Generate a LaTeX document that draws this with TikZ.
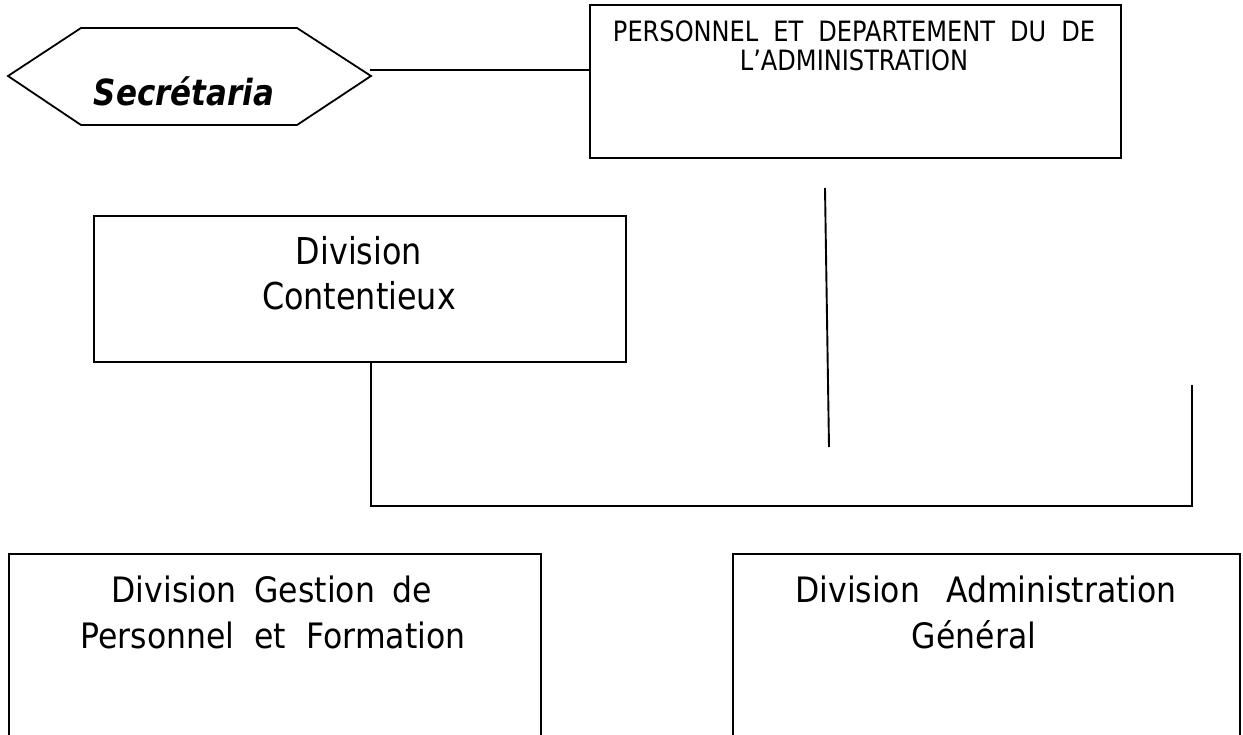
\documentclass[tikz,border=0pt]{standalone}
\usepackage{fontspec}
\setmainfont{DejaVu Sans}[FakeStretch=0.86]
\newfontfamily\lowerfamily{DejaVu Sans}[FakeStretch=0.9]
\begin{document}
\begin{tikzpicture}[x=1pt,y=-1pt,
  box/.style={draw, line width=1.9pt, rectangle, inner sep=0pt},
  wire/.style={line width=1.9pt},
  txt/.style={anchor=base, inner sep=0pt},
  topfont/.style={font=\fontsize{28}{31}\selectfont},
  midfont/.style={font=\fontsize{37}{45}\selectfont},
  lowfont/.style={font=\lowerfamily\fontsize{35}{45}\selectfont},
  secfont/.style={font=\fontsize{36}{40}\selectfont\bfseries\itshape}]
\useasboundingbox (0,0) rectangle (1243,735);
\clip (0,0) rectangle (1243,735);

% Secretariat hexagon
\coordinate (hexW) at (8,76);
\coordinate (hexE) at (371,76);
\draw[line width=1.8pt, line join=miter] (hexW) -- (81,28) -- (297,28) -- (hexE) -- (297,125) -- (81,125) -- cycle;
\node[txt, secfont] (sec) at (184,106) {Secrétaria};

% Personnel department box
\node[box, anchor=north west, minimum width=531pt, minimum height=153pt] (pers) at (589,4) {};
\node[txt, topfont] (persA) at (854,42) {PERSONNEL\hspace{15pt}ET\hspace{15pt}DEPARTEMENT\hspace{15pt}DU\hspace{15pt}DE};
\node[txt, topfont] (persB) at (854,71) {L’ADMINISTRATION};

% link from the hexagon to the department box
\coordinate (hexLink) at (370,70);
\draw[wire] (hexLink) -- (hexLink -| pers.west);

% Contentieux box
\node[box, anchor=north west, minimum width=532pt, minimum height=146pt] (cont) at (93,215) {};
\node[txt, midfont] (contA) at (359,265) {Division};
\node[txt, midfont] (contB) at (359,310) {Contentieux};

% free vertical stroke under the department box
\coordinate (vTop) at (825,188);
\coordinate (vBot) at (829,447);
\draw[wire] (vTop) -- (vBot);

% bracket connector
\coordinate (brL) at (371,506);
\coordinate (brR) at (1192,506);
\coordinate (brEnd) at (1192,385);
\draw[wire, line width=2.3pt, line join=miter] (cont.south -| brL) -- (brL) -- (brR) -- (brEnd);

% lower division boxes
\node[box, anchor=north west, minimum width=532pt, minimum height=220pt] (gest) at (8,553) {};
\node[txt, lowfont] (gestA) at (272,602) {Division\hspace{18pt}Gestion\hspace{18pt}de};
\node[txt, lowfont] (gestB) at (273,648) {Personnel\hspace{20pt}et\hspace{20pt}Formation};

\node[box, anchor=north west, minimum width=507pt, minimum height=220pt] (adm) at (732,553) {};
\node[txt, lowfont] (admA) at (986,602) {Division\hspace{26pt}Administration};
\node[txt, lowfont] (admB) at (974,648) {Général};
\end{tikzpicture}
\end{document}
